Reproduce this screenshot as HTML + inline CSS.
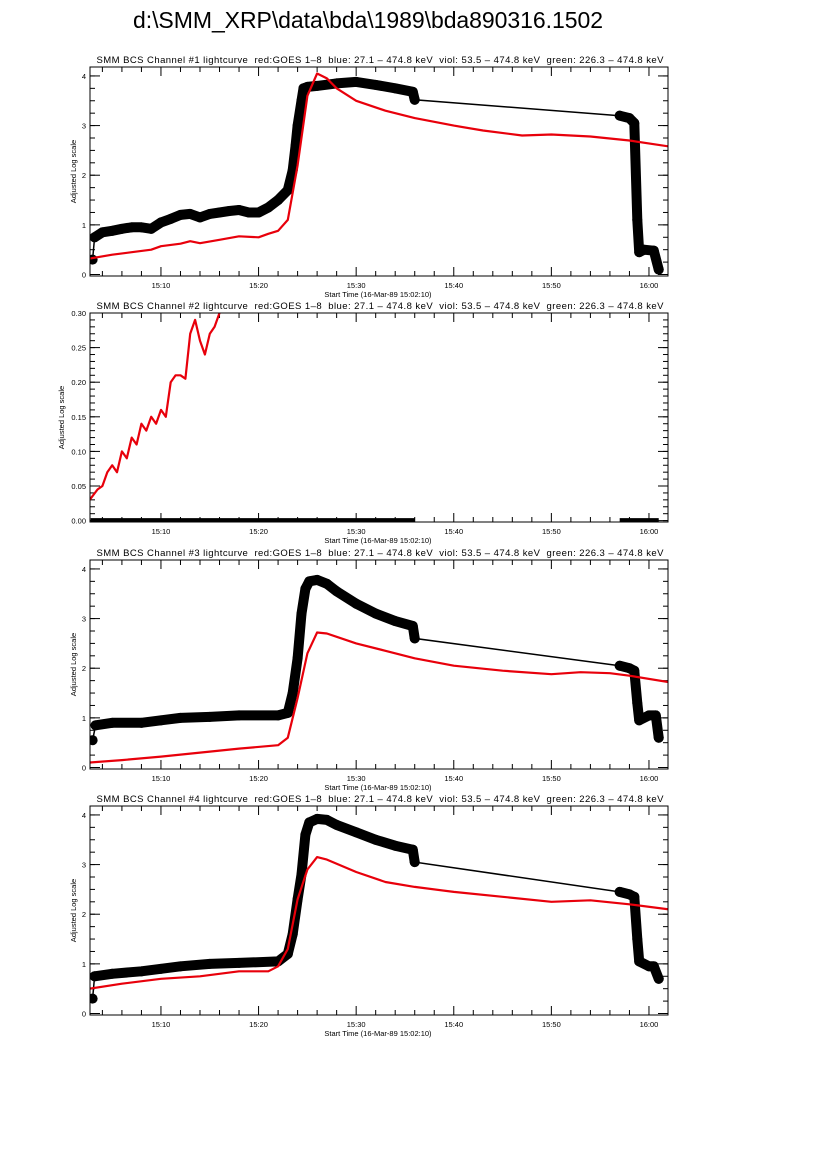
<!DOCTYPE html>
<html><head><meta charset="utf-8"><style>
body{margin:0;background:#fff;}
svg{display:block;font-family:"Liberation Sans",sans-serif;}
</style></head><body>
<svg id="chart" width="826" height="1169">
<text x="368" y="28" font-size="23" text-anchor="middle" textLength="470">d:\SMM_XRP\data\bda\1989\bda890316.1502</text>
</svg>
<script>
// time in minutes after 15:00
const xTickLabels=["15:10","15:20","15:30","15:40","15:50","16:00"];
const xTickTimes=[10,20,30,40,50,60];
const p1BlackT=[3.0,3.2,4,5,6,7,8,9,10,11,12,13,14,15,16,17,18,19,20,21,22,23,23.5,23.8,24,24.4,24.6,25,26,28,30,32,34,35.8,36,57,58,58.5,58.8,59,59.5,60.5,61];
const p1BlackV=[0.3,0.75,0.85,0.88,0.92,0.95,0.95,0.92,1.05,1.12,1.2,1.22,1.15,1.22,1.25,1.28,1.3,1.25,1.25,1.35,1.5,1.7,2.1,2.6,3.0,3.5,3.75,3.78,3.8,3.85,3.88,3.82,3.75,3.68,3.52,3.2,3.15,3.05,1.1,0.45,0.5,0.48,0.1];
const p1RedT=[2.7,5,7,9,10,12,13,14,16,18,20,21,22,23,24,25,26,27,28,30,33,36,40,43,47,50,54,58,62];
const p1RedV=[0.32,0.4,0.45,0.5,0.57,0.62,0.67,0.63,0.7,0.77,0.75,0.82,0.88,1.1,2.2,3.6,4.05,3.95,3.75,3.5,3.3,3.15,3.0,2.9,2.8,2.82,2.78,2.7,2.58];
const p2BlackT=[2.8,36,57,61];
const p2BlackV=[0,0,0,0];
const p2RedT=[2.7,3.5,4,4.5,5,5.5,6,6.5,7,7.5,8,8.5,9,9.5,10,10.5,11,11.5,12,12.5,13,13.5,14,14.5,15,15.5,16,16.3];
const p2RedV=[0.03,0.045,0.05,0.07,0.08,0.07,0.1,0.09,0.12,0.11,0.14,0.13,0.15,0.14,0.16,0.15,0.2,0.21,0.21,0.205,0.27,0.29,0.26,0.24,0.27,0.28,0.30,0.31];
const p3BlackT=[3,3.3,5,8,10,12,15,18,22,23,23.5,24,24.4,24.8,25.2,26,27,28,30,32,34,35.8,36,57,58,58.5,58.8,59,60,60.7,61];
const p3BlackV=[0.55,0.85,0.9,0.9,0.95,1.0,1.02,1.05,1.05,1.1,1.5,2.2,3.1,3.6,3.75,3.78,3.7,3.55,3.3,3.1,2.95,2.85,2.6,2.05,2.0,1.95,1.3,0.95,1.05,1.05,0.6];
const p3RedT=[2.7,6,10,14,18,22,23,24,25,26,27,30,33,36,40,45,50,53,56,58,62];
const p3RedV=[0.1,0.15,0.22,0.3,0.38,0.45,0.6,1.4,2.3,2.72,2.7,2.5,2.35,2.2,2.05,1.95,1.88,1.92,1.9,1.85,1.72];
const p4BlackT=[3,3.2,5,8,10,12,15,18,22,23,23.5,24,24.4,24.8,25.2,26,27,28,30,32,34,35.8,36,57,58,58.5,58.8,59,60,60.5,61];
const p4BlackV=[0.3,0.75,0.8,0.85,0.9,0.95,1.0,1.02,1.05,1.2,1.6,2.3,2.8,3.6,3.85,3.92,3.9,3.8,3.65,3.5,3.38,3.3,3.05,2.45,2.4,2.35,1.5,1.05,0.95,0.95,0.7];
const p4RedT=[2.7,6,10,14,18,21,22,23,24,25,26,27,30,33,36,40,45,50,54,58,62];
const p4RedV=[0.5,0.6,0.7,0.75,0.85,0.85,0.95,1.3,2.3,2.9,3.15,3.1,2.85,2.65,2.55,2.45,2.35,2.25,2.28,2.2,2.1];

const NS="http://www.w3.org/2000/svg";
const svg=document.getElementById('chart');
const X0=90,X1=668,T0=2.73,T1=61.95;
function xs(t){return X0+(t-T0)/(T1-T0)*(X1-X0);}
function mk(tag,attrs,parent){const e=document.createElementNS(NS,tag);for(const k in attrs)e.setAttribute(k,attrs[k]);(parent||svg).appendChild(e);return e;}
const subtitle="SMM BCS Channel #N lightcurve  red:GOES 1\u20138  blue: 27.1 \u2013 474.8 keV  viol: 53.5 \u2013 474.8 keV  green: 226.3 \u2013 474.8 keV";
const panels=[
 {n:1,top:67,ymin:-0.03,ymax:4.18,maj:[0,1,2,3,4],lab:["0","1","2","3","4"],minStep:0.25,bt:p1BlackT,bv:p1BlackV,rt:p1RedT,rv:p1RedV,dots:true,ytx:76},
 {n:2,top:313,ymin:-0.002,ymax:0.30,maj:[0,0.05,0.1,0.15,0.2,0.25,0.3],lab:["0.00","0.05","0.10","0.15","0.20","0.25","0.30"],minStep:0.01,bt:p2BlackT,bv:p2BlackV,rt:p2RedT,rv:p2RedV,dots:false,ytx:64},
 {n:3,top:560,ymin:-0.03,ymax:4.18,maj:[0,1,2,3,4],lab:["0","1","2","3","4"],minStep:0.25,bt:p3BlackT,bv:p3BlackV,rt:p3RedT,rv:p3RedV,dots:true,ytx:76},
 {n:4,top:806,ymin:-0.03,ymax:4.18,maj:[0,1,2,3,4],lab:["0","1","2","3","4"],minStep:0.25,bt:p4BlackT,bv:p4BlackV,rt:p4RedT,rv:p4RedV,dots:true,ytx:76}
];
const H=209;
panels.forEach(p=>{
  const g=mk('g',{});
  
  
  const bot=p.top+H;
  const ys=v=>bot-(v-p.ymin)/(p.ymax-p.ymin)*H;
  const st=mk('text',{x:380,y:p.top-4,'font-size':9.5,'text-anchor':'middle',textLength:567,style:'white-space:pre'},g);
  st.textContent=subtitle.replace('#N','#'+p.n);
  
  
  const cid='clip'+p.n;
  const cp=mk('clipPath',{id:cid},g);mk('rect',{x:X0,y:p.top,width:X1-X0,height:H},cp);
  for(let t=4;t<=61;t+=2){const maj=(t%10===0);const L=maj?9:5;
    mk('line',{x1:xs(t),x2:xs(t),y1:bot,y2:bot-L,stroke:'#000','stroke-width':1},g);
    mk('line',{x1:xs(t),x2:xs(t),y1:p.top,y2:p.top+L,stroke:'#000','stroke-width':1},g);}
  xTickTimes.forEach((t,i)=>{const tx=mk('text',{x:xs(t),y:bot+12,'font-size':7.5,'text-anchor':'middle'},g);tx.textContent=xTickLabels[i];
    
    });
  for(let v=0;v<=p.ymax+1e-9;v+=p.minStep){
    const y=ys(v);mk('line',{x1:X0,x2:X0+5,y1:y,y2:y,stroke:'#000'},g);mk('line',{x1:X1,x2:X1-5,y1:y,y2:y,stroke:'#000'},g);}
  p.maj.forEach((v,i)=>{const y=ys(v);
    mk('line',{x1:X0,x2:X0+10,y1:y,y2:y,stroke:'#000'},g);mk('line',{x1:X1,x2:X1-10,y1:y,y2:y,stroke:'#000'},g);
    const tx=mk('text',{x:X0-4,y:y+3,'font-size':7.5,'text-anchor':'end'},g);tx.textContent=p.lab[i];
    
    });
  const yt=mk('text',{x:0,y:0,'font-size':7.5,'text-anchor':'middle',transform:`translate(${p.ytx},${p.top+H/2}) rotate(-90)`},g);
  yt.textContent='Adjusted Log scale';
  
  
  const xt=mk('text',{x:378,y:bot+21,'font-size':7.5,'text-anchor':'middle'},g);
  xt.textContent='Start Time (16-Mar-89 15:02:10)';
  
  
  const dg=mk('g',{'clip-path':`url(#${cid})`},g);
  if(p.dots){
    const bpts=p.bt.map((t,i)=>xs(t).toFixed(1)+','+ys(p.bv[i]).toFixed(1));
    const bl=mk('polyline',{points:bpts.join(' '),fill:'none',stroke:'#000','stroke-width':1.5},dg);
    
    
    const seg1=[],seg2=[];
    p.bt.forEach((t,i)=>{const s=xs(t).toFixed(1)+','+ys(p.bv[i]).toFixed(1);if(t>3.1&&t<=36)seg1.push(s);else if(t>=57)seg2.push(s);});
    [seg1,seg2].forEach(s=>{const b=mk('polyline',{points:s.join(' '),fill:'none',stroke:'#000','stroke-width':10,'stroke-linejoin':'round','stroke-linecap':'round'},dg);
      
      });
    p.bt.forEach((t,i)=>{const c=mk('circle',{cx:xs(t),cy:ys(p.bv[i]),r:5,fill:'#000'},dg);
      
      });
  } else {
    for(let i=0;i<p.bt.length;i+=2){
      const b=mk('line',{x1:xs(p.bt[i]),x2:xs(p.bt[i+1]),y1:ys(p.bv[i]),y2:ys(p.bv[i+1]),stroke:'#000','stroke-width':5},dg);
      
      
    }
  }
  const rpts=p.rt.map((t,i)=>xs(t).toFixed(1)+','+ys(p.rv[i]).toFixed(1));
  const rl=mk('polyline',{points:rpts.join(' '),fill:'none',stroke:'#e8000b','stroke-width':2.2,'stroke-linejoin':'round'},dg);
  
  
  const fr=mk('rect',{x:X0,y:p.top,width:X1-X0,height:H,fill:'none',stroke:'#000','stroke-width':1},g);
  
  
});
</script>
</body></html>
